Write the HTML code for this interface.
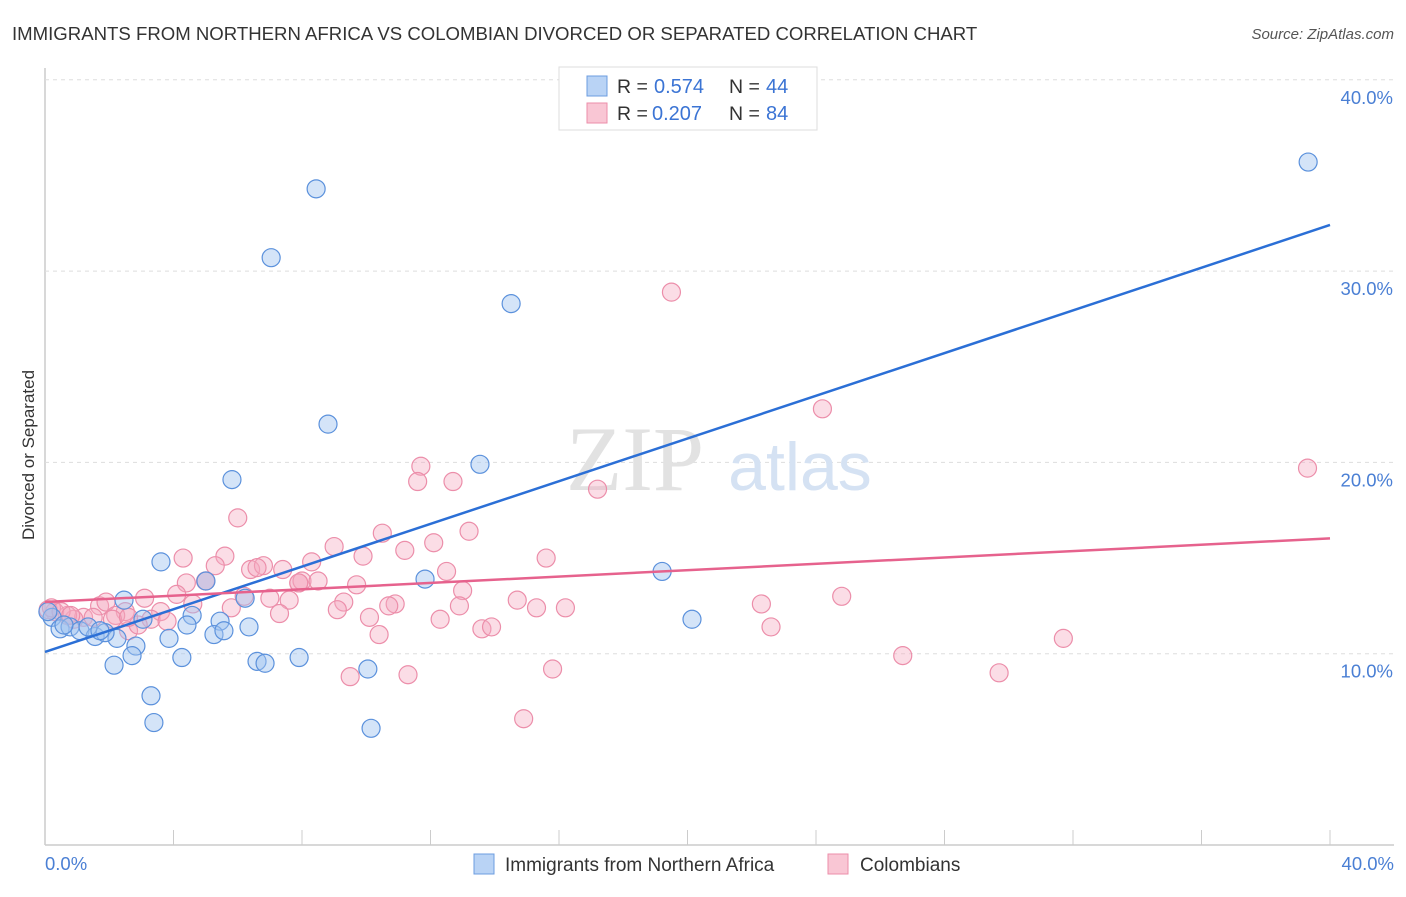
<!DOCTYPE html>
<html><head><meta charset="utf-8"><style>
body{margin:0;background:#fff;font-family:"Liberation Sans",sans-serif;}
</style></head><body>
<svg width="1406" height="892" xmlns="http://www.w3.org/2000/svg">
<text x="12" y="40" font-size="18.6" fill="#333">IMMIGRANTS FROM NORTHERN AFRICA VS COLOMBIAN DIVORCED OR SEPARATED CORRELATION CHART</text>
<text x="1394" y="39" font-size="15" fill="#555" font-style="italic" text-anchor="end">Source: ZipAtlas.com</text>
<g id="grid"></g>
<text x="635" y="490" font-size="92" fill="#e2e2e2" font-family="Liberation Serif,serif" text-anchor="middle">ZIP</text>
<text x="800" y="490" font-size="68" fill="#d5e2f3" text-anchor="middle">atlas</text>
<g id="pts"></g>
<g id="lines"></g>
<text transform="translate(34,455) rotate(-90)" font-size="17" fill="#333" text-anchor="middle">Divorced or Separated</text>
<text x="45" y="870" font-size="18.5" fill="#4a7fd4">0.0%</text>
<text x="1394" y="870" font-size="18.5" fill="#4a7fd4" text-anchor="end">40.0%</text>
<g>
<rect x="559" y="67" width="258" height="63" fill="#fff" stroke="#ddd"/>
<rect x="587" y="76" width="20" height="20" fill="#b9d3f5" stroke="#6c9de0"/>
<rect x="587" y="103" width="20" height="20" fill="#f9c6d4" stroke="#ec8eaa"/>
<text x="617" y="93" font-size="19.5" fill="#333">R =</text>
<text x="654" y="93" font-size="20" fill="#3b74d4">0.574</text>
<text x="729" y="93" font-size="19.5" fill="#333">N =</text>
<text x="766" y="93" font-size="20" fill="#3b74d4">44</text>
<text x="617" y="120" font-size="19.5" fill="#333">R =</text>
<text x="652" y="120" font-size="20" fill="#3b74d4">0.207</text>
<text x="729" y="120" font-size="19.5" fill="#333">N =</text>
<text x="766" y="120" font-size="20" fill="#3b74d4">84</text>
</g>
<g>
<rect x="474" y="854" width="20" height="20" fill="#b9d3f5" stroke="#6c9de0"/>
<text x="505" y="871" font-size="19" fill="#333">Immigrants from Northern Africa</text>
<rect x="828" y="854" width="20" height="20" fill="#f9c6d4" stroke="#ec8eaa"/>
<text x="860" y="871" font-size="19" fill="#333">Colombians</text>
</g>
</svg>
<script>
const yTicks=[10,20,30,40];
const blueX=[8.44,7.04,14.51,8.81,5.82,13.54,39.32,3.61,11.83,19.21,20.14,2.46,5.01,6.23,3.05,5.45,4.58,4.42,6.35,3.86,5.26,5.57,2.24,2.83,2.71,4.26,2.15,6.60,6.85,7.91,10.05,3.30,3.39,10.15,0.22,0.47,0.78,1.09,1.56,1.87,1.34,0.09,0.59,1.71];
const blueY=[34.3,30.7,28.3,22.0,19.1,19.9,35.7,14.8,13.9,14.3,11.8,12.8,13.8,12.9,11.8,11.7,12.0,11.5,11.4,10.8,11.0,11.2,10.8,10.4,9.9,9.8,9.4,9.6,9.5,9.8,9.2,7.8,6.4,6.1,11.9,11.3,11.4,11.2,10.9,11.1,11.4,12.2,11.5,11.2];
const pinkX=[19.5,24.2,39.3,11.7,11.6,12.7,17.2,13.2,6.0,10.5,11.2,12.1,15.6,9.0,9.9,4.3,5.6,8.3,5.3,6.4,6.8,7.4,6.6,12.5,5.0,4.4,7.9,8.0,8.5,9.7,4.1,3.1,6.2,7.0,7.6,13.0,14.7,15.3,16.2,22.3,24.8,12.9,9.3,10.9,10.7,9.1,5.8,4.6,3.6,1.7,1.9,2.5,3.3,3.8,2.2,7.3,12.3,10.1,13.6,13.9,10.4,22.6,31.7,2.6,2.9,1.2,0.9,0.7,0.3,0.1,0.2,26.7,29.7,15.8,9.5,11.3,14.9,1.5,2.1,5.0,0.5,0.8,2.6,7.9];
const pinkY=[28.9,22.8,19.7,19.8,19.0,19.0,18.6,16.4,17.1,16.3,15.4,15.8,15.0,15.6,15.1,15.0,15.1,14.8,14.6,14.4,14.6,14.4,14.5,14.3,13.8,13.7,13.7,13.8,13.8,13.6,13.1,12.9,13.0,12.9,12.8,13.3,12.8,12.4,12.4,12.6,13.0,12.5,12.7,12.6,12.5,12.3,12.4,12.6,12.2,12.5,12.7,12.2,11.8,11.7,12.0,12.1,11.8,11.9,11.3,11.4,11.0,11.4,10.8,11.2,11.5,11.9,11.8,12.0,12.2,12.3,12.4,9.9,9.0,9.2,8.8,8.9,6.6,11.9,11.8,13.8,12.2,12.0,11.9,13.7];
const blueFit=[10.09,32.41];
const pinkFit=[12.70,16.03];
const NS='http://www.w3.org/2000/svg';
const sx=v=>45+v/40*1285, sy=v=>845-v*19.13;
function mk(t,a,p){const e=document.createElementNS(NS,t);for(const k in a)e.setAttribute(k,a[k]);p.appendChild(e);return e;}
const grid=document.getElementById('grid');
mk('line',{x1:45,y1:68,x2:45,y2:845,stroke:'#ccc','stroke-width':1.5},grid);
mk('line',{x1:45,y1:845,x2:1394,y2:845,stroke:'#ccc','stroke-width':1.5},grid);
for(let i=1;i<=10;i++){const x=45+i*128.5;mk('line',{x1:x,y1:830,x2:x,y2:845,stroke:'#ccc'},grid);}
yTicks.forEach(v=>{
 const l=mk('line',{x1:45,y1:sy(v),x2:1394,y2:sy(v),stroke:'#ddd','stroke-dasharray':'4,4'},grid);
 
 
 const t=mk('text',{x:1393,y:sy(v)+24,'font-size':18.5,fill:'#4a7fd4','text-anchor':'end'},grid);
 t.textContent=v.toFixed(1)+'%';
 
 
});
const pts=document.getElementById('pts');
pinkX.forEach((x,i)=>{
 const c=mk('circle',{cx:sx(x),cy:sy(pinkY[i]),r:9,fill:'rgba(246,170,192,0.4)',stroke:'#ec8eaa','stroke-width':1.2},pts);
 
 
});
blueX.forEach((x,i)=>{
 const c=mk('circle',{cx:sx(x),cy:sy(blueY[i]),r:9,fill:'rgba(160,196,240,0.45)',stroke:'#5b91dc','stroke-width':1.2},pts);
 
 
});
const lines=document.getElementById('lines');
const bl=mk('line',{x1:sx(0),y1:sy(blueFit[0]),x2:sx(40),y2:sy(blueFit[1]),stroke:'#2b6fd6','stroke-width':2.5},lines);


const pl=mk('line',{x1:sx(0),y1:sy(pinkFit[0]),x2:sx(40),y2:sy(pinkFit[1]),stroke:'#e6628d','stroke-width':2.5},lines);


</script>
</body></html>
